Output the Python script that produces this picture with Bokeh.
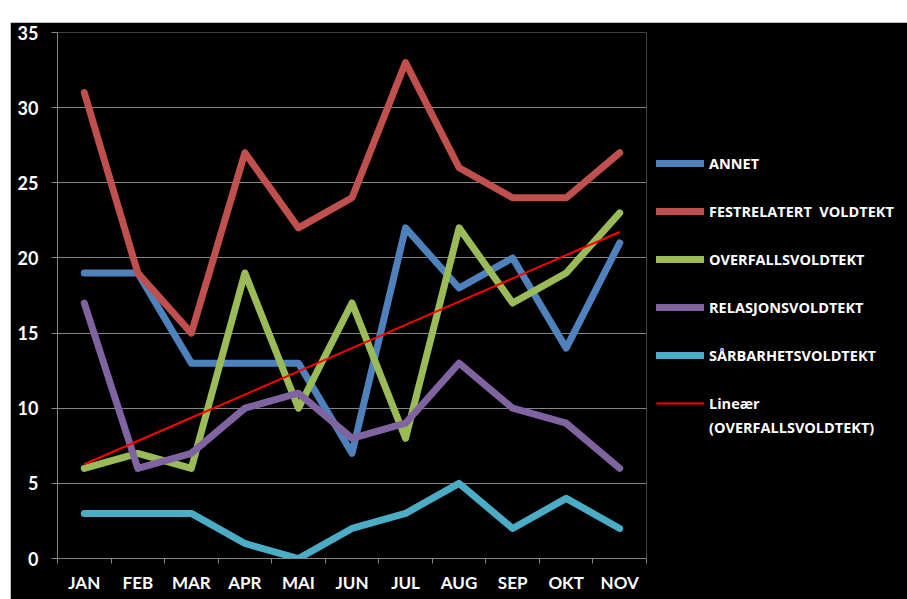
import numpy as np
from bokeh.plotting import figure
from bokeh.models import Range1d, FixedTicker, Legend, LegendItem, Spacer
from bokeh.layouts import column, row
from bokeh.embed import file_html
from bokeh.resources import INLINE

months = ["JAN", "FEB", "MAR", "APR", "MAI", "JUN", "JUL", "AUG", "SEP", "OKT", "NOV"]
annet = [19, 19, 13, 13, 13, 7, 22, 18, 20, 14, 21]
festrelatert = [31, 19, 15, 27, 22, 24, 33, 26, 24, 24, 27]
overfalls = [6, 7, 6, 19, 10, 17, 8, 22, 17, 19, 23]
relasjons = [17, 6, 7, 10, 11, 8, 9, 13, 10, 9, 6]
sarbarhets = [3, 3, 3, 1, 0, 2, 3, 5, 2, 4, 2]
series_names = ["ANNET", "FESTRELATERT  VOLDTEKT", "OVERFALLSVOLDTEKT",
                "RELASJONSVOLDTEKT", "SÅRBARHETSVOLDTEKT"]
series_colors = ["#4F81BD", "#C0504D", "#9BBB59", "#8064A2", "#4BACC6"]
trend_lines = ["Lineær", "(OVERFALLSVOLDTEKT)"]

x = list(range(1, len(months) + 1))
slope, intercept = np.polyfit(x, overfalls, 1)
trend = [slope * xi + intercept for xi in x]

p = figure(frame_width=589, frame_height=526, output_backend="svg", toolbar_location=None,
           x_range=Range1d(0.5, 11.5), y_range=Range1d(0, 35),
           min_border_left=47, min_border_right=0, min_border_top=10,
           min_border_bottom=41)
p.background_fill_color = "black"
p.border_fill_color = "black"
p.outline_line_color = None

grid_col = "#868686"
p.xgrid.grid_line_color = None
p.ygrid.grid_line_color = grid_col
p.ygrid.grid_line_width = 1

p.yaxis.ticker = FixedTicker(ticks=[0, 5, 10, 15, 20, 25, 30, 35])
p.yaxis.axis_line_color = grid_col
p.yaxis.major_tick_line_color = grid_col
p.yaxis.major_tick_out = 6
p.yaxis.major_tick_in = 0
p.yaxis.minor_tick_line_color = None
p.yaxis.major_label_text_color = "white"
p.yaxis.major_label_text_font = "Lato"
p.yaxis.major_label_text_font_style = "bold"
p.yaxis.major_label_text_font_size = "18px"
p.yaxis.major_label_standoff = 13

p.xaxis.ticker = FixedTicker(ticks=x, minor_ticks=[v + 0.5 for v in range(0, 12)])
p.xaxis.major_label_overrides = {xi: m for xi, m in zip(x, months)}
p.xaxis.axis_line_color = grid_col
p.xaxis.major_tick_line_color = None
p.xaxis.minor_tick_line_color = grid_col
p.xaxis.minor_tick_out = 5
p.xaxis.minor_tick_in = 0
p.xaxis.major_tick_out = 5
p.xaxis.major_label_text_color = "white"
p.xaxis.major_label_text_font = "Lato"
p.xaxis.major_label_text_font_style = "bold"
p.xaxis.major_label_text_font_size = "17px"
p.xaxis.major_label_standoff = 8

# invisible renderer used for spacer rows / second label line in the legend
blank = p.line([], [], line_alpha=0)

items = []
for name, col, vals in zip(series_names, series_colors,
                           [annet, festrelatert, overfalls, relasjons, sarbarhets]):
    r = p.line(x, vals, line_color=col, line_width=7, line_join="round", line_cap="round")
    items.append(LegendItem(label=name, renderers=[r]))
    items.append(LegendItem(label=" ", renderers=[blank]))
rt = p.line(x, trend, line_color="#FF0000", line_width=2)
items.append(LegendItem(label=trend_lines[0], renderers=[rt]))
items.append(LegendItem(label=trend_lines[1], renderers=[blank]))

legend = Legend(items=items, location="center_left")
legend.background_fill_alpha = 0
legend.border_line_color = None
legend.label_text_color = "white"
legend.label_text_font = "Open Sans"
legend.label_text_font_style = "bold"
legend.label_text_font_size = "14.5px"
legend.glyph_width = 48
legend.glyph_height = 24
legend.label_height = 24
legend.label_width = 188
legend.spacing = 0
legend.padding = 0
legend.margin = 10
legend.label_standoff = 5
p.add_layout(legend, "right")

layout = column(Spacer(height=22), row(Spacer(width=10), p))
open("out.html", "w").write(file_html(layout, INLINE))
